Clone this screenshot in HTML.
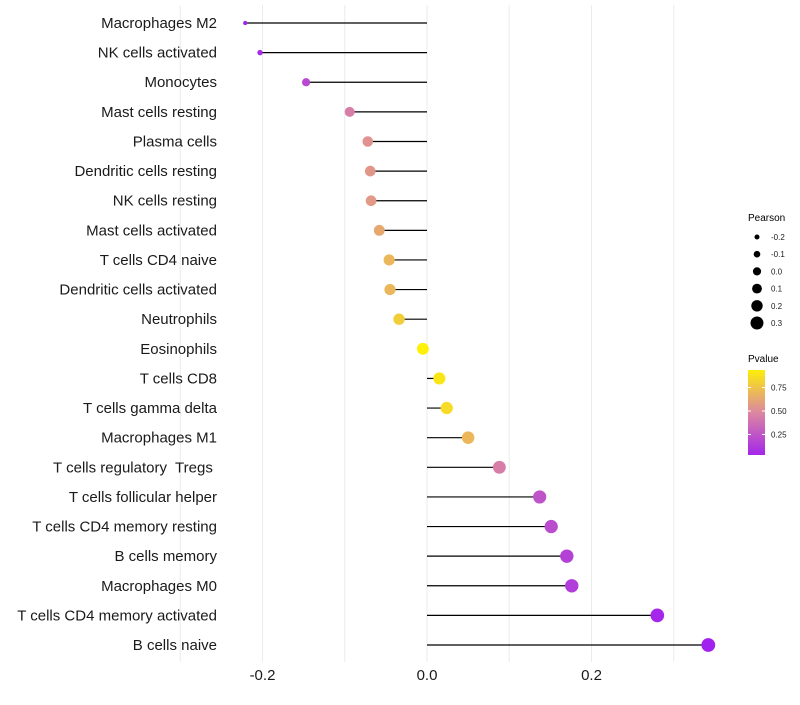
<!DOCTYPE html>
<html><head><meta charset="utf-8"><style>
body{margin:0;background:#fff;}
svg text{font-family:"Liberation Sans",sans-serif;white-space:pre;}
</style></head><body>
<svg id="chart" width="800" height="700"></svg>
<script>
const categories=["Macrophages M2","NK cells activated","Monocytes","Mast cells resting","Plasma cells","Dendritic cells resting","NK cells resting","Mast cells activated","T cells CD4 naive","Dendritic cells activated","Neutrophils","Eosinophils","T cells CD8","T cells gamma delta","Macrophages M1","T cells regulatory  Tregs ","T cells follicular helper","T cells CD4 memory resting","B cells memory","Macrophages M0","T cells CD4 memory activated","B cells naive"];
const pearson=[-0.221,-0.203,-0.147,-0.094,-0.072,-0.069,-0.068,-0.058,-0.046,-0.045,-0.034,-0.005,0.015,0.024,0.050,0.088,0.137,0.151,0.170,0.176,0.280,0.342];
const pvalues=[0.02,0.05,0.2,0.45,0.55,0.57,0.58,0.65,0.72,0.72,0.82,0.98,0.93,0.88,0.72,0.45,0.25,0.22,0.16,0.14,0.04,0.01];
const xTicks=[-0.2,0.0,0.2];
const xTickLabels=["-0.2","0.0","0.2"];
const gridVals=[-0.3,-0.2,-0.1,0,0.1,0.2,0.3];
const sizeLegendVals=[-0.2,-0.1,0.0,0.1,0.2,0.3];
const sizeLegendLabels=["-0.2","-0.1","0.0","0.1","0.2","0.3"];
const pTicks=[0.75,0.5,0.25];
const pTickLabels=["0.75","0.50","0.25"];

const NS="http://www.w3.org/2000/svg";
const svg=document.getElementById('chart');
const X=v=>427+v*822.5;
const Y=i=>23+i*29.62;
const R=v=>Math.max(1.5,7-5*Math.exp(-(v+0.225)*7));
const RL=v=>2.5+(v+0.2)*8;
function lerp(a,b,t){return a.map((x,i)=>Math.round(x+(b[i]-x)*t));}
function col(p){const c0=[160,32,240],c1=[220,135,160],c2=[255,245,0];
 const c=p<0.5?lerp(c0,c1,p/0.5):lerp(c1,c2,(p-0.5)/0.5);return `rgb(${c[0]},${c[1]},${c[2]})`;}
function el(t,a){const e=document.createElementNS(NS,t);for(const k in a)e.setAttribute(k,a[k]);svg.appendChild(e);return e;}

gridVals.forEach(v=>{const g=el('line',{x1:X(v),x2:X(v),y1:5,y2:662,stroke:'#ebebeb','stroke-width':1});

});

categories.forEach((c,i)=>{
 const t=el('text',{x:217,y:Y(i)+5,'text-anchor':'end','font-size':15,fill:'#1a1a1a'});t.textContent=c;
 
 
 const l=el('line',{x1:X(0),x2:X(pearson[i]),y1:Y(i),y2:Y(i),stroke:'#000','stroke-width':1.2});
 
 
 const d=el('circle',{cx:X(pearson[i]),cy:Y(i),r:R(pearson[i]),fill:col(pvalues[i])});
 
 
});
xTicks.forEach((v,i)=>{const t=el('text',{x:X(v),y:680,'text-anchor':'middle','font-size':15,fill:'#1a1a1a'});t.textContent=xTickLabels[i];
 
 });

const lt=el('text',{x:748,y:221,'font-size':10,fill:'#000'});lt.textContent='Pearson';


sizeLegendVals.forEach((v,i)=>{const y=237+i*17.2;
 const c=el('circle',{cx:757,cy:y,r:RL(v),fill:'#000'});
 
 
 const t=el('text',{x:771,y:y+3,'font-size':8,fill:'#1a1a1a'});t.textContent=sizeLegendLabels[i];
 
 });

const pt=el('text',{x:748,y:362,'font-size':10,fill:'#000'});pt.textContent='Pvalue';


const defs=el('defs',{});
const lg=document.createElementNS(NS,'linearGradient');lg.setAttribute('id','pg');lg.setAttribute('x1',0);lg.setAttribute('x2',0);lg.setAttribute('y1',1);lg.setAttribute('y2',0);
[0,0.25,0.5,0.75,1].forEach(s=>{const st=document.createElementNS(NS,'stop');const p=0.03+s*0.94;st.setAttribute('offset',s);st.setAttribute('stop-color',col(p));lg.appendChild(st);});
defs.appendChild(lg);
const cb=el('rect',{x:748,y:370,width:17,height:85,fill:'url(#pg)'});


pTicks.forEach((p,i)=>{const y=458-p*94;
 el('line',{x1:748,x2:751,y1:y,y2:y,stroke:'#fff'});el('line',{x1:762,x2:765,y1:y,y2:y,stroke:'#fff'});
 const t=el('text',{x:771,y:y+3,'font-size':8,fill:'#1a1a1a'});t.textContent=pTickLabels[i];
 
 });
</script>
</body></html>
